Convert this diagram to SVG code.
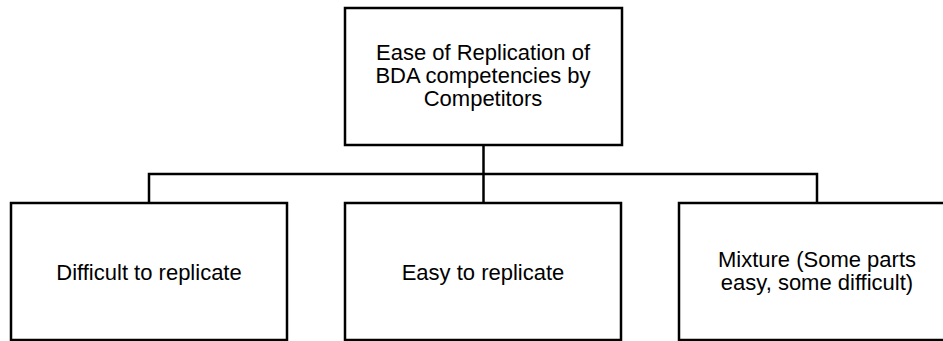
<svg xmlns="http://www.w3.org/2000/svg" width="943" height="341" viewBox="0 0 943 341">
  <style>
    .box { fill: #ffffff; stroke: #000000; stroke-width: 2.5; }
    .wire { fill: none; stroke: #000000; stroke-width: 2.5; }
    .label { font-family: "Liberation Sans", Arial, sans-serif; font-size: 22px; fill: #000000; text-anchor: middle; }
  </style>
  <rect width="943" height="341" fill="#ffffff"/>

  <!-- tree connectors -->
  <g id="connectors">
    <path class="wire" d="M483.5,145 V202"/>
    <path class="wire" d="M149,202 V174 H817 V202"/>
  </g>

  <g id="root">
    <rect class="box" x="345" y="8" width="277" height="137"/>
    <text class="label" x="483" y="60">Ease of Replication of</text>
    <text class="label" x="483" y="83">BDA competencies by</text>
    <text class="label" x="483" y="106">Competitors</text>
  </g>

  <g id="difficult">
    <rect class="box" x="11" y="203" width="276" height="137"/>
    <text class="label" x="149" y="280">Difficult to replicate</text>
  </g>

  <g id="easy">
    <rect class="box" x="345" y="203" width="276" height="137"/>
    <text class="label" x="483" y="280">Easy to replicate</text>
  </g>

  <g id="mixture">
    <rect class="box" x="679" y="203" width="276" height="137"/>
    <text class="label" x="817" y="266.5">Mixture (Some parts</text>
    <text class="label" x="817" y="289.5">easy, some difficult)</text>
  </g>
</svg>
